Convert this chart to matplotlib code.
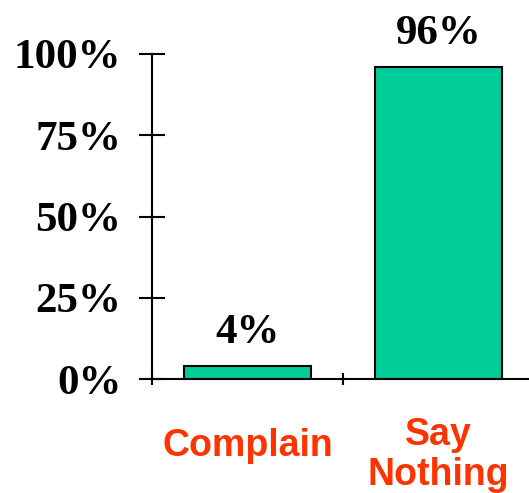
import matplotlib
matplotlib.use("Agg")
import matplotlib.pyplot as plt
import numpy as np

categories = ["Complain", "Say\nNothing"]
values = [4, 96]
value_labels = ["4%", "96%"]
yticks = [0, 25, 50, 75, 100]
ytick_labels = ["0%", "25%", "50%", "75%", "100%"]

W, H = 529, 493
fig = plt.figure(figsize=(W / 100, H / 100), dpi=100)
x0, x1 = 152, 534
y0, y1 = 379, 54
ax = fig.add_axes([x0 / W, (H - y0) / H, (x1 - x0) / W, (y0 - y1) / H])
ax.set_xlim(-0.5, 1.5)
ax.set_ylim(0, 100)

x = np.arange(len(categories))
ax.bar(x, values, width=0.665, color="#00CC99", edgecolor="black", linewidth=1.5, zorder=3)

serif = ["Liberation Serif", "DejaVu Serif"]
for xi, v, lab in zip(x, values, value_labels):
    ax.annotate(lab, (xi, v), xytext=(0, 10), textcoords="offset points",
                ha="center", va="bottom", fontsize=31, fontweight="bold",
                family=serif, color="black", annotation_clip=False)

for s in ["top", "right"]:
    ax.spines[s].set_visible(False)
ax.spines["left"].set_linewidth(1.5)
ax.spines["bottom"].set_linewidth(1.5)
ax.spines["bottom"].set_zorder(4)

ax.set_yticks(yticks)
ax.set_yticklabels(ytick_labels, fontsize=31, fontweight="bold", family=serif)
ax.tick_params(axis="y", direction="inout", length=19, width=1.5, pad=12.5)

ax.set_xticks([-0.5, 0.5, 1.5])
ax.set_xticklabels([])
ax.tick_params(axis="x", which="major", direction="inout", length=8, width=1.5)

# category labels below the axis
label_offsets = [-48, -55]
for xi, cat, off in zip(x, categories, label_offsets):
    ax.annotate(cat, (xi, 0), xycoords=ax.get_xaxis_transform(),
                xytext=(0, off), textcoords="offset points",
                ha="center", va="center", fontsize=27, fontweight="bold",
                family=["Liberation Sans", "DejaVu Sans"], color="#FF3300",
                linespacing=1.15, annotation_clip=False)

fig.savefig("out.png", dpi=100)
